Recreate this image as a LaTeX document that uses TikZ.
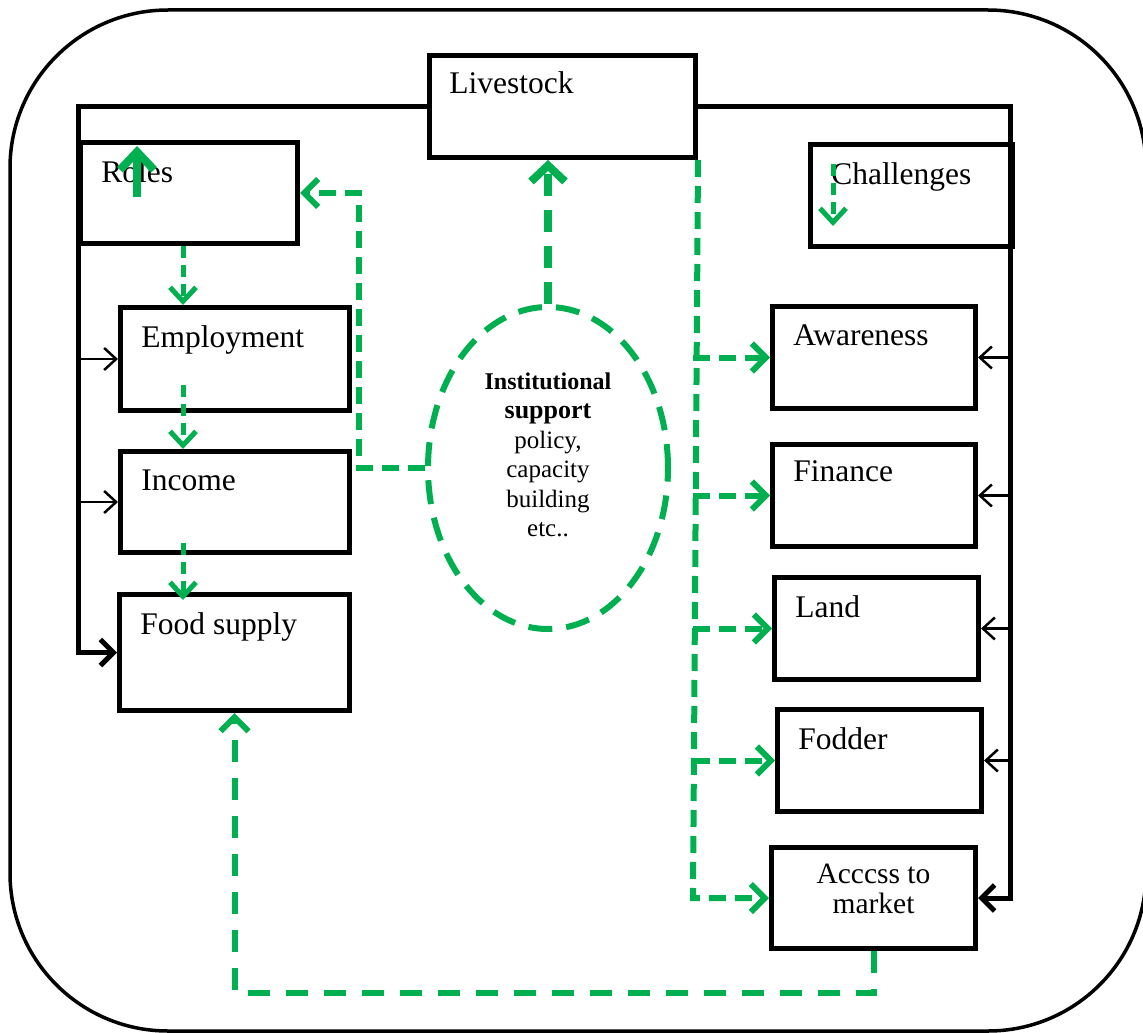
\documentclass[tikz,border=0pt]{standalone}
\usepackage{fontspec}
\setmainfont{Liberation Serif}
\usetikzlibrary{arrows.meta,shapes.geometric}
\definecolor{grn}{RGB}{0,176,80}
\tikzset{
  box/.style={draw, line width=5pt, inner sep=0pt, anchor=north west},
  lbl/.style={anchor=north west, inner sep=0pt, xshift=23pt, yshift=-20pt, font=\fontsize{31.5}{34}\selectfont},
  link/.style={line width=2.5pt, -{Straight Barb[length=12pt,width=22pt]}},
  linkbold/.style={line width=5pt, -{Straight Barb[length=13pt,width=26pt]}},
  gflow/.style={grn, line width=6pt, dash pattern=on 17pt off 9pt, -{Straight Barb[length=14pt,width=28pt]}},
  gshort/.style={grn, line width=5pt, dash pattern=on 12pt off 7pt, -{Straight Barb[length=14pt,width=26pt]}},
  glong/.style={grn, line width=6pt, dash pattern=on 22pt off 16pt, -{Straight Barb[length=14pt,width=28pt]}},
  gup/.style={grn, line width=8pt, dash pattern=on 22pt off 14pt, -{Straight Barb[length=16pt,width=34pt]}},
  gsolid/.style={grn, line width=8pt, -{Straight Barb[length=18pt,width=34pt]}}
}
\begin{document}
\begin{tikzpicture}[x=1pt, y=-1pt, style=thick]
    \useasboundingbox (0,0) rectangle (1143,1033);
    \draw[line width=3.5pt, rounded corners=158pt] (10,10) rectangle (1146,1031);

    % boxes
    \node[box, minimum width=266pt, minimum height=102pt, label={[lbl, xshift=-1pt, yshift=2pt]north west:Livestock}] (L) at (427,53) {};
    \node[box, minimum width=217pt, minimum height=101pt, label={[lbl]north west:Roles}] (R) at (78,140) {};
    \node[box, minimum width=229pt, minimum height=103pt, label={[lbl]north west:Employment}] (E) at (118,305) {};
    \node[box, minimum width=229pt, minimum height=101pt, label={[lbl]north west:Income}] (I) at (118,449) {};
    \node[box, minimum width=230pt, minimum height=116pt, label={[lbl]north west:Food supply}] (F) at (117,592) {};
    \node[box, minimum width=202pt, minimum height=102pt, label={[lbl]north west:Challenges}] (C) at (808,142) {};
    \node[box, minimum width=203pt, minimum height=102pt, label={[lbl]north west:Awareness}] (Aw) at (770,304) {};
    \node[box, minimum width=203pt, minimum height=102pt, label={[lbl, yshift=2pt]north west:Finance}] (Fi) at (770,442) {};
    \node[box, minimum width=204pt, minimum height=102pt, label={[lbl]north west:Land}] (La) at (772,575) {};
    \node[box, minimum width=204pt, minimum height=102pt, label={[lbl]north west:Fodder}] (Fo) at (775,707) {};
    \node[box, minimum width=204pt, minimum height=101pt, label={[anchor=north, inner sep=0pt, yshift=-19pt, align=center, font=\fontsize{29.5}{30}\selectfont]north:{Acccss to\\market}}] (M) at (769,845) {};

    % institutional support
    \node[draw=grn, line width=6pt, dash pattern=on 24pt off 14pt, ellipse, minimum width=240pt, minimum height=322pt, inner sep=0pt] (ell) at (548,468) {};
    \node[align=center, font=\fontsize{25}{29.5}\selectfont] (ist) at (548,455) {{\fontsize{24}{29.5}\selectfont\textbf{Institutional}}\\{\fontsize{26}{29.5}\selectfont\textbf{support}}\\policy,\\capacity\\building\\etc..};

    % black links
    \coordinate (lc) at (78,0);
    \coordinate (rc) at (1010,0);
    \draw[linkbold] (L.west) -| (lc |- F.west) -- (F.west);
    \draw[link] (lc |- E.west) -- (E.west);
    \draw[link] (lc |- I.west) -- (I.west);
    \draw[linkbold] (L.east) -| (rc |- M.east) -- (M.east);
    \draw[link] (rc |- Aw.east) -- (Aw.east);
    \draw[link] (rc |- Fi.east) -- (Fi.east);
    \draw[link] (rc |- La.east) -- (La.east);
    \draw[link] (rc |- Fo.east) -- (Fo.east);

    % green links
    \coordinate (gx) at (183,0);
    \coordinate (e1) at (183,385);
    \coordinate (i1) at (183,543);
    \coordinate (r1) at (137,197);
    \coordinate (r2) at (137,146);
    \coordinate (c1) at (833,164);
    \coordinate (c2) at (833,226);
    \coordinate (gv) at (693,0);
    \draw[gshort] (R.south -| gx) -- (E.north -| gx);
    \draw[gshort] (e1) -- (e1 |- I.north);
    \draw[gshort] (i1) -- ([yshift=-8pt]i1 |- F.north);
    \draw[gsolid] (r1) -- (r2);
    \draw[gshort] (c1) -- (c2);
    \draw[gup] (ell.north) -- (ell.north |- L.south);
    \draw[gflow] (ell.west) -- ++(-66,0) |- (R.east);
    \draw[gflow] (L.south east) -- (gv |- M.west) -- (M.west);
    \draw[gflow] (gv |- Aw.west) -- (Aw.west);
    \draw[gflow] (gv |- Fi.west) -- (Fi.west);
    \draw[gflow] (gv |- La.west) -- (La.west);
    \draw[gflow] (gv |- Fo.west) -- (Fo.west);
    \draw[glong] (M.south) -- ++(0,42) -| (F.south);
\end{tikzpicture}
\end{document}
